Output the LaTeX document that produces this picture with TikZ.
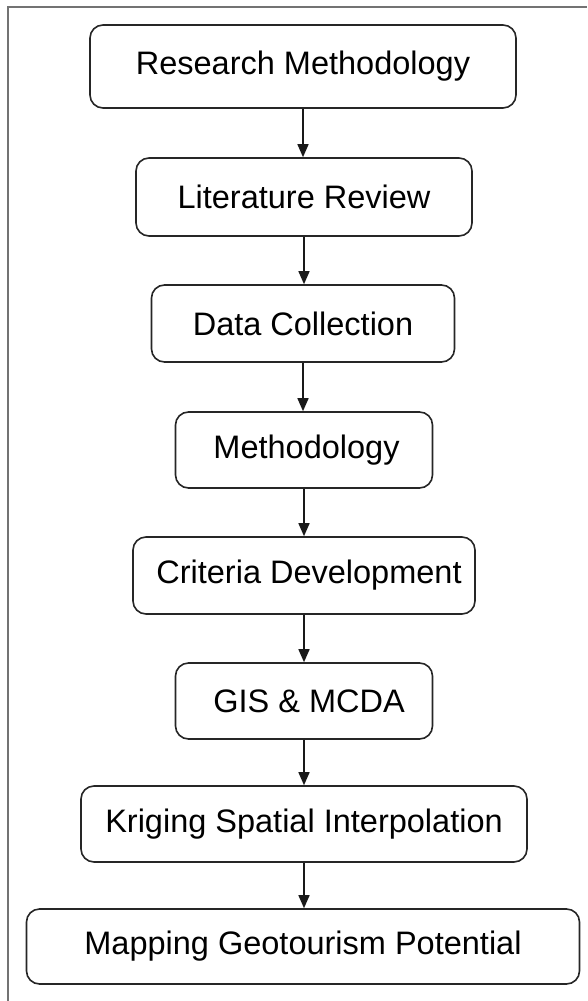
\documentclass[tikz,border=0pt]{standalone}
\usepackage{fontspec}
\setmainfont{Liberation Sans}
\usetikzlibrary{arrows.meta}
\begin{document}
\begin{tikzpicture}[x=1pt,y=-1pt,
  stage/.style={draw=black!85, line width=1.6pt, rounded corners=13pt,
    font=\fontsize{32.5}{38}\selectfont, inner sep=0pt, fill=white},
  flow/.style={-{Triangle[length=13pt,width=11pt]}, line width=1.5pt, draw=black!90}]
\useasboundingbox (0,0) rectangle (587,1001);
% outer frame (top and left edges)
\draw[black!55, line width=1.4pt] (8,1001) -- (8,7) -- (587,7);

\node[stage, minimum width=426pt, minimum height=83pt] (rm)  at (303,66.5)  {Research Methodology};
\node[stage, minimum width=336pt, minimum height=78pt] (lr)  at (304,197)   {Literature Review};
\node[stage, minimum width=303pt, minimum height=77pt] (dc)  at (303,323.5) {Data Collection};
\node[stage, minimum width=257pt, minimum height=76pt] (me)  at (304,450)   {\hspace*{5pt}Methodology};
\node[stage, minimum width=342pt, minimum height=77pt] (cd)  at (304,575.5) {\hspace*{10pt}Criteria Development};
\node[stage, minimum width=257pt, minimum height=76pt] (gis) at (304,701)   {\hspace*{10pt}GIS \& MCDA};
\node[stage, minimum width=446pt, minimum height=76pt] (ksi) at (304,824)   {Kriging Spatial Interpolation};
\node[stage, minimum width=553pt, minimum height=75pt] (mgp) at (303,946.5) {Mapping Geotourism Potential};

\draw[flow] (rm.south)  -- (rm.south  |- lr.north);
\draw[flow] (lr.south)  -- (lr.south  |- dc.north);
\draw[flow] (dc.south)  -- (dc.south  |- me.north);
\draw[flow] (me.south)  -- (me.south  |- cd.north);
\draw[flow] (cd.south)  -- (cd.south  |- gis.north);
\draw[flow] (gis.south) -- (gis.south |- ksi.north);
\draw[flow] (ksi.south) -- (ksi.south |- mgp.north);
\end{tikzpicture}
\end{document}
